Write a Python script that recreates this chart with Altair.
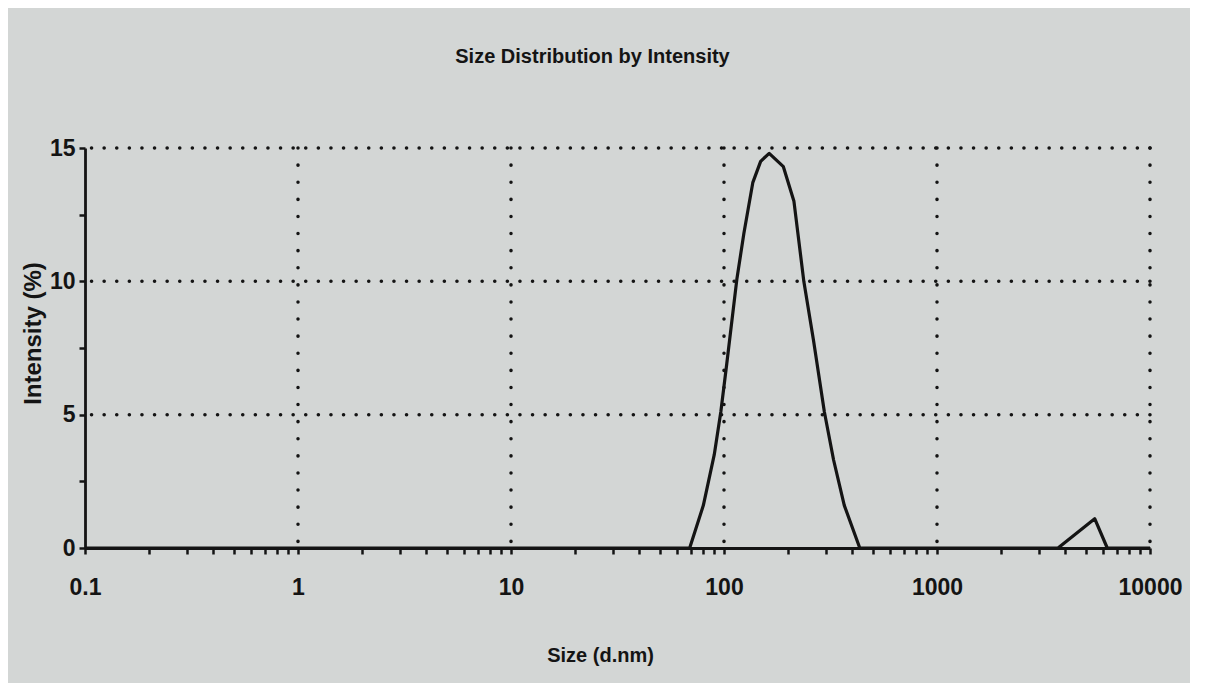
import altair as alt
import pandas as pd

# Curve
sizes = [0.1, 69, 80, 90, 96.6, 103, 115, 124, 136.5, 148.6, 163, 190, 213, 237, 263, 296,
         327, 367, 434, 3700, 5500, 6300, 10000]
intensity = [0, 0, 1.6, 3.5, 5.1, 6.9, 10.1, 11.8, 13.7, 14.5, 14.8, 14.3, 13.0, 10.0, 7.8,
             5.1, 3.3, 1.6, 0, 0, 1.1, 0, 0]

x_grid = [1, 10, 100, 1000, 10000]
y_grid = [5, 10, 15]
x_major = [0.1, 1, 10, 100, 1000, 10000]
x_ticks = [0.1, 0.2, 0.3, 0.4, 0.5, 0.6, 0.7, 0.8, 0.9,
           1, 2, 3, 4, 5, 6, 7, 8, 9,
           10, 20, 30, 40, 50, 60, 70, 80, 90,
           100, 200, 300, 400, 500, 600, 700, 800, 900,
           1000, 2000, 3000, 4000, 5000, 6000, 7000, 8000, 9000, 10000]
y_ticks = [0, 2.5, 5, 7.5, 10, 12.5, 15]

FONT = "Liberation Sans, Arial, sans-serif"
INK = "#141414"

curve = pd.DataFrame({"size": sizes, "intensity": intensity})
xg = pd.DataFrame({"x": x_grid})
yg = pd.DataFrame({"y": y_grid})

xscale = alt.Scale(type="log", domain=[0.1, 10000], nice=False)
yscale = alt.Scale(domain=[0, 15], nice=False)

major_js = "[" + ",".join(str(v) for v in x_major) + "]"

hgrid = alt.Chart(yg).mark_rule(
    color=INK, strokeWidth=3.5, strokeDash=[0.1, 12.5], strokeCap="round"
).encode(y=alt.Y("y:Q", scale=yscale))

vgrid = alt.Chart(xg).mark_rule(
    color=INK, strokeWidth=3.5, strokeDash=[0.1, 17], strokeCap="round"
).encode(x=alt.X("x:Q", scale=xscale))

line = alt.Chart(curve).mark_line(
    color=INK, strokeWidth=3.2, interpolate="linear", strokeJoin="round"
).encode(
    x=alt.X(
        "size:Q", scale=xscale,
        axis=alt.Axis(
            title="Size (d.nm)", values=x_ticks, format="~g",
            labelExpr="indexof(" + major_js + ", datum.value) >= 0 ? datum.label : ''",
            labelOverlap=False, labelFlush=False, labelPadding=22, labelFontSize=23,
            titleX=515, titleY=107, titleBaseline="middle", titleFontSize=20,
        ),
    ),
    y=alt.Y(
        "intensity:Q", scale=yscale,
        axis=alt.Axis(
            title="Intensity (%)", values=y_ticks,
            labelExpr="datum.value % 5 == 0 ? datum.label : ''",
            labelOverlap=False, labelFlush=False, labelPadding=4, labelFontSize=23,
            titleX=-52, titleY=185, titleAlign="center", titleBaseline="middle",
            titleFontSize=24,
        ),
    ),
)

chart = alt.layer(hgrid, vgrid, line).properties(
    width=1065,
    height=400,
    padding={"left": 77, "top": 140, "right": 40, "bottom": 135},
    autosize=alt.AutoSizeParams(type="none"),
    background="#d3d6d5",
    title=alt.TitleParams(
        "Size Distribution by Intensity", fontSize=20, font=FONT, color=INK,
        fontWeight="bold", offset=70, dx=-25,
    ),
).configure_axis(
    grid=False, domainColor=INK, domainWidth=2.8, tickColor=INK, tickWidth=2.5,
    tickSize=6, labelColor=INK, titleColor=INK, labelFont=FONT, titleFont=FONT,
    labelFontWeight="bold", titleFontWeight="bold",
).configure_view(stroke=None)

chart.save("out.html", embed_options={"renderer": "svg", "actions": False})
